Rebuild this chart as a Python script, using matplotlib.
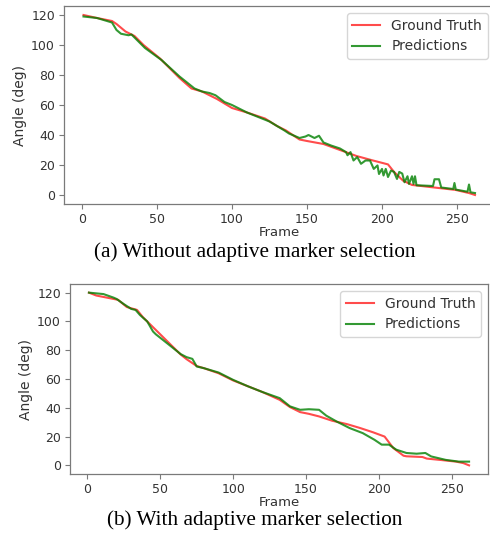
import matplotlib
matplotlib.use("Agg")
import matplotlib.pyplot as plt

# ── Data (frame, angle in deg) ─────────────────────────────────────────────────
# (a) without adaptive marker selection
gt_a_frame = [1, 10, 20, 23, 29, 35, 41, 52, 65, 73, 80, 90, 100, 110, 122,
              130, 136, 145, 150, 161, 172, 183, 194, 204, 208, 214, 220, 234,
              249, 258, 262]
gt_a_angle = [120, 118, 116, 114, 109, 106, 100, 91, 78, 71, 69, 64, 58, 55,
              51, 46, 43, 37, 36, 34, 30, 26, 23, 20.4, 15.4, 9.6, 6.7, 5.1,
              3.4, 1.3, 0]

pred_a_frame = [1, 10, 20, 23, 26, 31, 33, 36, 42, 53, 65, 70, 75, 80, 85, 89,
                95, 100, 110, 120, 125, 130, 135, 138, 145, 149, 151, 155,
                158, 159, 161, 166, 172, 176, 177, 179, 181, 183.5, 186, 189,
                192, 194.5, 197, 198, 200, 201, 202.5, 204, 206, 208, 210,
                211.5, 213.5, 215, 217, 218, 220, 221, 222, 223, 234, 235,
                238, 239.5, 247.5, 248.3, 249.2, 257, 258, 259, 262]
pred_a_angle = [119, 118, 115, 110, 107.5, 106.5, 107, 104, 98, 90, 79, 75,
                71, 69, 68, 66.5, 62, 60, 55, 51, 49, 46, 43, 41, 38, 39, 40,
                38, 39.5, 38, 35, 33, 31, 28.6, 26.5, 28.6, 23, 25.3, 20.8, 23,
                23, 17.4, 19.7, 14, 17.4, 13, 17.4, 12, 16.3, 15.4, 10.7, 15.4,
                14.3, 8.5, 12.5, 7.4, 12.5, 7.4, 12.5, 6.5, 6, 10.5, 10.5, 5,
                4, 8, 3.6, 2.2, 7, 1.8, 1.3]

# (b) with adaptive marker selection
gt_b_frame = [1, 6, 18, 21, 27, 34, 38, 50, 64, 68, 75, 80, 90, 100, 110, 120,
              132, 139, 146, 152, 159, 168, 178, 187, 196, 204, 210, 217, 219,
              230, 233, 242, 253, 258, 261, 262]
gt_b_angle = [120, 118, 115.6, 115, 110, 108, 103, 91, 77, 73.8, 69, 67.5,
              64, 59, 55, 51, 45.5, 40.5, 37, 35.8, 34, 31, 28.7, 26, 23, 20,
              12, 6.7, 6.3, 5.8, 4.7, 3.8, 2.6, 1.6, 0.4, 0]

pred_b_frame = [1, 11, 18, 20, 25, 30, 33, 36, 41, 45, 47, 52, 64, 68, 72,
                75, 80, 90, 100, 110, 120, 132, 139, 146, 152, 159, 164, 171,
                180, 189, 197, 202, 207, 212, 219, 226, 232, 236, 246, 255,
                262]
pred_b_angle = [120, 119, 116.5, 115.6, 112, 108.7, 108, 104.5, 100, 93, 91,
                87, 77.3, 75.2, 74, 68.7, 67.5, 64.5, 59.4, 55, 51, 46.7, 41,
                38.6, 39, 38.6, 34.5, 30.5, 25.9, 22.4, 17.8, 14.4, 14.4, 10.9,
                8.6, 8.1, 8.6, 6.2, 3.8, 2.6, 2.6]

captions = ["(a) Without adaptive marker selection",
            "(b) With adaptive marker selection"]

# ── Styling ────────────────────────────────────────────────────────────────────
TEXT_C = "#333333"
SPINE_C = "#7a7a7a"
plt.rcParams["font.family"] = "DejaVu Sans"

fig = plt.figure(figsize=(4.9, 5.36), dpi=100)
fig.patch.set_facecolor("white")

# axes placed in pixel terms of the 490x536 canvas (top panel runs off the right)
ax_a = fig.add_axes([64 / 490, (536 - 204) / 536, 430.5 / 490, 198 / 536])
ax_b = fig.add_axes([70 / 490, (536 - 474) / 536, 418 / 490, 190 / 536])

panels = [
    (ax_a, gt_a_frame, gt_a_angle, pred_a_frame, pred_a_angle),
    (ax_b, gt_b_frame, gt_b_angle, pred_b_frame, pred_b_angle),
]

for ax, gf, ga, pf, pa in panels:
    ax.plot(gf, ga, color="red", lw=1.5, alpha=0.7, label="Ground Truth")
    ax.plot(pf, pa, color="green", lw=1.5, alpha=0.8, label="Predictions")
    ax.set_xlim(-12, 275)
    ax.set_ylim(-6, 126)
    ax.set_xticks([0, 50, 100, 150, 200, 250])
    ax.set_yticks([0, 20, 40, 60, 80, 100, 120])
    ax.tick_params(labelsize=9, colors=SPINE_C, labelcolor=TEXT_C,
                   length=3.5, width=0.8, pad=3)
    for sp in ax.spines.values():
        sp.set_color(SPINE_C)
        sp.set_linewidth(0.9)
    ax.set_xlabel("Frame", fontsize=9.5, color=TEXT_C, labelpad=0)
    ax.set_ylabel("Angle (deg)", fontsize=10, color=TEXT_C, labelpad=3)
    leg = ax.legend(loc="upper right", fontsize=10, framealpha=0.8,
                    edgecolor="#cccccc")
    for t in leg.get_texts():
        t.set_color(TEXT_C)

fig.text(0.52, 1 - 252 / 536, captions[0], ha="center", va="center",
         fontsize=15.3, family="Liberation Serif", color="black")
fig.text(0.52, 1 - 520 / 536, captions[1], ha="center", va="center",
         fontsize=15.3, family="Liberation Serif", color="black")

fig.savefig("out.png", dpi=100, facecolor="white")
